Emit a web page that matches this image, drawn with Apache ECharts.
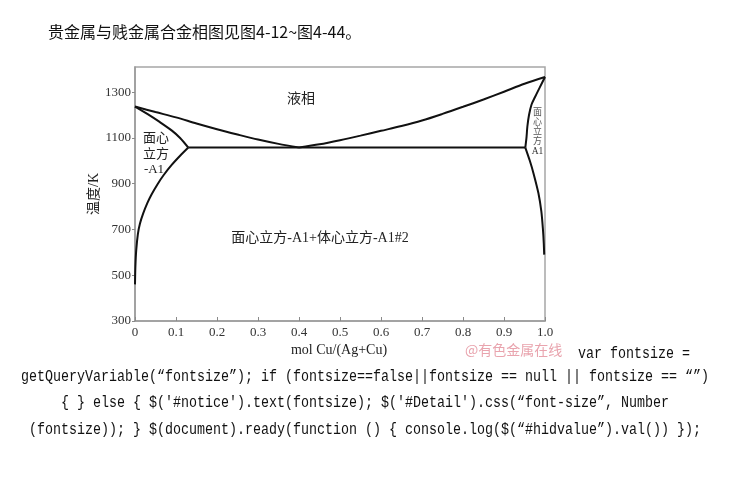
<!DOCTYPE html>
<html>
<head>
<meta charset="utf-8">
<script src="https://cdn.jsdelivr.net/npm/echarts@6/dist/echarts.min.js"></script>
<style>
html,body{margin:0;padding:0;background:#fff;}
#chart{width:730px;height:479px;}
</style>
</head>
<body>
<div id="chart"></div>
<script>
// ---- data (mole fraction Cu, temperature K) ----
const liquidusAg = [[0,1237],[0.05,1213],[0.1,1190],[0.15,1163],[0.2,1138],[0.25,1115],[0.3,1093],[0.35,1074],[0.4,1058]];
const liquidusCu = [[0.4,1058],[0.45,1072],[0.5,1090],[0.55,1110],[0.6,1131],[0.65,1152],[0.7,1176],[0.75,1205],[0.8,1236],[0.85,1268],[0.9,1302],[0.95,1337],[1.0,1366]];
const solidusAg = [[0,1237],[0.03,1205],[0.06,1170],[0.09,1132],[0.11,1100],[0.13,1058]];
const solvusAg = [[0.13,1058],[0.11,1022],[0.09,983],[0.07,938],[0.055,898],[0.04,852],[0.03,815],[0.02,770],[0.012,725],[0.007,680],[0.003,610],[0.001,540],[0,460]];
const solidusCu = [[0.952,1058],[0.955,1105],[0.957,1150],[0.961,1200],[0.967,1245],[0.976,1280],[0.987,1320],[1.0,1366]];
const solvusCu = [[0.952,1058],[0.963,1000],[0.972,945],[0.984,858],[0.991,780],[0.995,700],[0.997,640],[0.998,590]];
const eutectic = [[0.13,1058],[0.952,1058]];

const xTicks = [0,0.1,0.2,0.3,0.4,0.5,0.6,0.7,0.8,0.9,1.0];
const xTickLabels = ['0','0.1','0.2','0.3','0.4','0.5','0.6','0.7','0.8','0.9','1.0'];
const yTicks = [300,500,700,900,1100,1300];
const yTickLabels = ['300','500','700','900','1100','1300'];

const titleText = '贵金属与贱金属合金相图见图4-12~图4-44。';
const xName = 'mol Cu/(Ag+Cu)';
const yName = '温度/K';
const codeLines = [
  'getQueryVariable(“fontsize”); if (fontsize==false||fontsize == null || fontsize == “”)',
  "{ } else { $('#notice').text(fontsize); $('#Detail').css(“font-size”, Number",
  '(fontsize)); } $(document).ready(function () { console.log($(“#hidvalue”).val()) });'
];

const serif = "'Liberation Serif','Noto Sans CJK SC'";
const chart = echarts.init(document.getElementById('chart'), null, {renderer:'canvas'});

function lineSeries(data){
  return {type:'line', data:data, symbol:'none', smooth:0.3, silent:true,
    lineStyle:{color:'#111', width:2}, z:3};
}

chart.setOption({
  animation:false,
  backgroundColor:'#fff',
  grid:{left:135, right:185, top:67, bottom:158, show:true, borderColor:'#a6a6a6', borderWidth:1.5, backgroundColor:'transparent'},
  xAxis:{type:'value', min:0, max:1,
    axisLine:{show:true, lineStyle:{color:'#9a9a9a', width:1.5}},
    axisTick:{show:true, inside:true, length:4, customValues:xTicks, lineStyle:{color:'#8a8a8a'}},
    axisLabel:{customValues:xTicks, margin:5, color:'#333', fontSize:13, fontFamily:serif,
      formatter:function(v){const i=xTicks.findIndex(t=>Math.abs(t-v)<1e-6);return i>=0?xTickLabels[i]:'';}},
    splitLine:{show:false}},
  yAxis:{type:'value', min:300, max:1410,
    axisLine:{show:true, lineStyle:{color:'#9a9a9a', width:1.5}},
    axisTick:{show:true, inside:false, length:3, customValues:yTicks, lineStyle:{color:'#8a8a8a'}},
    axisLabel:{customValues:yTicks, margin:4, color:'#333', fontSize:13, fontFamily:serif,
      formatter:function(v){const i=yTicks.indexOf(Math.round(v));return i>=0?yTickLabels[i]:'';}},
    splitLine:{show:false}},
  series:[lineSeries(liquidusAg), lineSeries(liquidusCu), lineSeries(solidusAg), lineSeries(solvusAg),
          lineSeries(solidusCu), lineSeries(solvusCu),
          {type:'line', data:eutectic, symbol:'none', silent:true, lineStyle:{color:'#111', width:2}, z:3}],
  graphic:[
    {type:'text', left:48, top:24, style:{text:titleText, fontSize:16, fontFamily:"'Noto Sans CJK SC'", fill:'#111'}},
    {type:'text', x:301, y:99, style:{text:'液相', fontSize:14, fontFamily:serif, fill:'#222', align:'center', verticalAlign:'middle'}},
    {type:'text', x:156, y:139, style:{text:'面心', fontSize:13, fontFamily:serif, fill:'#222', align:'center', verticalAlign:'middle'}},
    {type:'text', x:156, y:155, style:{text:'立方', fontSize:13, fontFamily:serif, fill:'#222', align:'center', verticalAlign:'middle'}},
    {type:'text', x:154, y:170, style:{text:'-A1', fontSize:13, fontFamily:serif, fill:'#222', align:'center', verticalAlign:'middle'}},
    {type:'text', x:320, y:238, style:{text:'面心立方-A1+体心立方-A1#2', fontSize:14, fontFamily:serif, fill:'#222', align:'center', verticalAlign:'middle'}},
    {type:'text', x:537.5, y:113, style:{text:'面', fontSize:9, fontFamily:serif, fill:'#555', align:'center', verticalAlign:'middle'}},
    {type:'text', x:537.5, y:122.5, style:{text:'心', fontSize:9, fontFamily:serif, fill:'#555', align:'center', verticalAlign:'middle'}},
    {type:'text', x:537.5, y:132, style:{text:'立', fontSize:9, fontFamily:serif, fill:'#555', align:'center', verticalAlign:'middle'}},
    {type:'text', x:537.5, y:141.5, style:{text:'方', fontSize:9, fontFamily:serif, fill:'#555', align:'center', verticalAlign:'middle'}},
    {type:'text', x:537.5, y:151, style:{text:'A1', fontSize:9.5, fontFamily:serif, fill:'#333', align:'center', verticalAlign:'middle'}},
    {type:'text', x:94, y:194, rotation:Math.PI/2, style:{text:yName, fontSize:14, fontFamily:serif, fill:'#222', align:'center', verticalAlign:'middle'}},
    {type:'text', x:339, y:350, style:{text:xName, fontSize:14, fontFamily:serif, fill:'#222', align:'center', verticalAlign:'middle'}},
    {type:'text', x:465, y:350, style:{text:'@有色金属在线', fontSize:14, fontFamily:"'Noto Sans CJK SC'", fill:'#e9a4ae', align:'left', verticalAlign:'middle'}},
    {type:'text', x:578, y:354, scaleX:0.833, style:{text:'var fontsize =', fontSize:16, fontFamily:"'Liberation Mono'", fill:'#111', align:'left', verticalAlign:'middle'}},
    {type:'text', x:365, y:377, scaleX:0.833, style:{text:codeLines[0], fontSize:16, fontFamily:"'Liberation Mono'", fill:'#111', align:'center', verticalAlign:'middle'}},
    {type:'text', x:365, y:403, scaleX:0.833, style:{text:codeLines[1], fontSize:16, fontFamily:"'Liberation Mono'", fill:'#111', align:'center', verticalAlign:'middle'}},
    {type:'text', x:365, y:430, scaleX:0.833, style:{text:codeLines[2], fontSize:16, fontFamily:"'Liberation Mono'", fill:'#111', align:'center', verticalAlign:'middle'}}
  ]
});
</script>
</body>
</html>
